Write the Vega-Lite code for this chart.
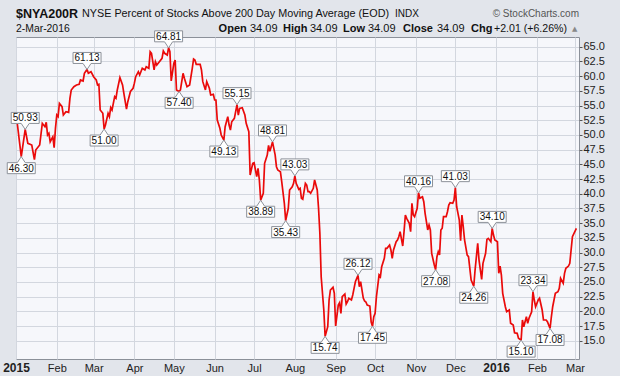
{
 "$schema": "https://vega.github.io/schema/vega-lite/v6.json",
 "width": 563,
 "height": 322,
 "autosize": {"type": "none"},
 "padding": {"left": 16, "top": 37, "right": 41, "bottom": 17},
 "background": "#e2e5eb",
 "config": {"view": {"fill": "#f6f7fb", "stroke": "#8b9099", "strokeWidth": 1}, "font": "Liberation Sans", "axis": {"labelOverlap": false}, "axisY": {"labelOverlap": false, "labelSeparation": 0}},
 "datasets": {
  "series": [
   {"date":"2015-01-02","value":51.9},{"date":"2015-01-05","value":46.30},{"date":"2015-01-08","value":50.93},{"date":"2015-01-10","value":48.57},{"date":"2015-01-13","value":48.28},{"date":"2015-01-15","value":45.8},{"date":"2015-01-16","value":47.43},{"date":"2015-01-19","value":48.28},{"date":"2015-01-21","value":51.97},{"date":"2015-01-23","value":51.39},{"date":"2015-01-24","value":52.14},{"date":"2015-01-25","value":49.98},{"date":"2015-01-26","value":50.27},{"date":"2015-01-27","value":48.84},{"date":"2015-01-29","value":49.69},{"date":"2015-01-30","value":47.82},{"date":"2015-01-31","value":51.12},
   {"date":"2015-02-01","value":53.38},{"date":"2015-02-02","value":53.10},{"date":"2015-02-03","value":55.37},{"date":"2015-02-05","value":54.80},{"date":"2015-02-06","value":53.38},{"date":"2015-02-08","value":53.95},{"date":"2015-02-10","value":53.84},{"date":"2015-02-11","value":56.22},{"date":"2015-02-12","value":57.64},{"date":"2015-02-14","value":58.20},{"date":"2015-02-16","value":58.49},{"date":"2015-02-18","value":58.61},{"date":"2015-02-19","value":59.34},{"date":"2015-02-21","value":59.17},{"date":"2015-02-22","value":60.48},{"date":"2015-02-24","value":61.13},{"date":"2015-02-25","value":60.48},{"date":"2015-02-27","value":60.75},
   {"date":"2015-03-01","value":59.90},{"date":"2015-03-03","value":59.34},{"date":"2015-03-04","value":58.49},{"date":"2015-03-05","value":58.61},{"date":"2015-03-06","value":54.23},{"date":"2015-03-08","value":53.67},{"date":"2015-03-09","value":51.00},{"date":"2015-03-10","value":51.68},{"date":"2015-03-12","value":53.67},{"date":"2015-03-13","value":53.10},{"date":"2015-03-14","value":54.63},{"date":"2015-03-15","value":54.23},{"date":"2015-03-17","value":56.50},{"date":"2015-03-18","value":56.22},{"date":"2015-03-19","value":57.64},{"date":"2015-03-21","value":59.73},{"date":"2015-03-23","value":58.49},{"date":"2015-03-24","value":57.07},{"date":"2015-03-26","value":54.40},{"date":"2015-03-27","value":55.65},{"date":"2015-03-29","value":57.38},{"date":"2015-03-31","value":57.93},
   {"date":"2015-04-01","value":58.8},{"date":"2015-04-02","value":59.90},{"date":"2015-04-04","value":60.75},{"date":"2015-04-05","value":60.19},{"date":"2015-04-07","value":61.33},{"date":"2015-04-09","value":61.04},{"date":"2015-04-10","value":61.60},{"date":"2015-04-12","value":61.33},{"date":"2015-04-13","value":64.15},{"date":"2015-04-14","value":63.88},{"date":"2015-04-16","value":61.04},{"date":"2015-04-17","value":62.45},{"date":"2015-04-18","value":61.89},{"date":"2015-04-20","value":62.45},{"date":"2015-04-22","value":63.03},{"date":"2015-04-23","value":64.27},{"date":"2015-04-24","value":63.88},{"date":"2015-04-26","value":63.59},{"date":"2015-04-27","value":64.81},{"date":"2015-04-28","value":64.15},{"date":"2015-04-29","value":59.17},
   {"date":"2015-05-01","value":62.18},{"date":"2015-05-02","value":62.74},{"date":"2015-05-03","value":57.64},{"date":"2015-05-05","value":57.40},{"date":"2015-05-06","value":57.64},{"date":"2015-05-08","value":60.48},{"date":"2015-05-09","value":59.63},{"date":"2015-05-11","value":58.20},{"date":"2015-05-13","value":58.49},{"date":"2015-05-15","value":61.33},{"date":"2015-05-16","value":62.91},{"date":"2015-05-17","value":62.74},{"date":"2015-05-18","value":62.01},{"date":"2015-05-21","value":62.01},{"date":"2015-05-22","value":61.04},{"date":"2015-05-23","value":59.05},{"date":"2015-05-25","value":57.64},{"date":"2015-05-26","value":59.05},{"date":"2015-05-28","value":57.93},{"date":"2015-05-29","value":56.79},{"date":"2015-05-31","value":56.90},
   {"date":"2015-06-01","value":55.94},{"date":"2015-06-02","value":55.94},{"date":"2015-06-03","value":52.53},{"date":"2015-06-05","value":51.12},{"date":"2015-06-06","value":49.98},{"date":"2015-06-08","value":49.13},{"date":"2015-06-09","value":51.39},{"date":"2015-06-11","value":53.10},{"date":"2015-06-12","value":51.68},{"date":"2015-06-13","value":50.83},{"date":"2015-06-14","value":52.24},{"date":"2015-06-16","value":52.82},{"date":"2015-06-18","value":55.15},{"date":"2015-06-19","value":53.38},{"date":"2015-06-20","value":54.52},{"date":"2015-06-22","value":54.63},{"date":"2015-06-24","value":53.38},{"date":"2015-06-25","value":51.97},{"date":"2015-06-27","value":50.54},{"date":"2015-06-28","value":43.18},{"date":"2015-06-30","value":45.17},
   {"date":"2015-07-01","value":45.27},{"date":"2015-07-03","value":42.89},{"date":"2015-07-04","value":44.32},{"date":"2015-07-05","value":42.33},{"date":"2015-07-06","value":38.89},{"date":"2015-07-08","value":40.07},{"date":"2015-07-09","value":45.17},{"date":"2015-07-11","value":46.58},{"date":"2015-07-12","value":48.2},{"date":"2015-07-13","value":47.2},{"date":"2015-07-14","value":48.0},{"date":"2015-07-15","value":48.81},{"date":"2015-07-17","value":46.6},{"date":"2015-07-18","value":44.59},{"date":"2015-07-19","value":44.03},{"date":"2015-07-21","value":43.74},{"date":"2015-07-22","value":42.04},{"date":"2015-07-24","value":38.37},{"date":"2015-07-25","value":35.43},{"date":"2015-07-27","value":37.52},{"date":"2015-07-28","value":40.63},{"date":"2015-07-30","value":41.19},{"date":"2015-07-31","value":41.77},
   {"date":"2015-08-01","value":43.03},{"date":"2015-08-02","value":41.77},{"date":"2015-08-04","value":40.75},{"date":"2015-08-05","value":40.92},{"date":"2015-08-06","value":39.22},{"date":"2015-08-07","value":39.05},{"date":"2015-08-09","value":41.77},{"date":"2015-08-10","value":41.48},{"date":"2015-08-11","value":40.34},{"date":"2015-08-12","value":40.34},{"date":"2015-08-13","value":40.07},{"date":"2015-08-15","value":40.92},{"date":"2015-08-16","value":42.33},{"date":"2015-08-18","value":40.63},{"date":"2015-08-19","value":37.52},{"date":"2015-08-20","value":33.27},{"date":"2015-08-21","value":25.88},{"date":"2015-08-23","value":20.22},{"date":"2015-08-24","value":15.74},{"date":"2015-08-26","value":17.38},{"date":"2015-08-27","value":21.92},{"date":"2015-08-28","value":23.62},{"date":"2015-08-30","value":24.08},{"date":"2015-08-31","value":23.06},
   {"date":"2015-09-01","value":17.50},{"date":"2015-09-03","value":21.07},{"date":"2015-09-04","value":21.46},{"date":"2015-09-05","value":19.66},{"date":"2015-09-06","value":22.48},{"date":"2015-09-08","value":22.94},{"date":"2015-09-09","value":21.24},{"date":"2015-09-10","value":21.63},{"date":"2015-09-11","value":22.21},{"date":"2015-09-13","value":21.92},{"date":"2015-09-14","value":22.77},{"date":"2015-09-15","value":23.91},{"date":"2015-09-16","value":25.03},{"date":"2015-09-18","value":26.12},{"date":"2015-09-19","value":24.18},{"date":"2015-09-20","value":25.03},{"date":"2015-09-22","value":22.26},{"date":"2015-09-23","value":21.75},{"date":"2015-09-24","value":21.58},{"date":"2015-09-25","value":21.07},{"date":"2015-09-27","value":20.90},{"date":"2015-09-28","value":18.18},{"date":"2015-09-29","value":17.45},{"date":"2015-09-30","value":19.08},
   {"date":"2015-10-01","value":19.66},{"date":"2015-10-02","value":22.48},{"date":"2015-10-04","value":26.17},{"date":"2015-10-05","value":25.88},{"date":"2015-10-06","value":27.59},{"date":"2015-10-08","value":29.01},{"date":"2015-10-09","value":30.71},{"date":"2015-10-10","value":30.71},{"date":"2015-10-12","value":31.27},{"date":"2015-10-13","value":30.43},{"date":"2015-10-14","value":29.01},{"date":"2015-10-15","value":30.43},{"date":"2015-10-17","value":31.84},{"date":"2015-10-18","value":32.13},{"date":"2015-10-19","value":32.69},{"date":"2015-10-20","value":33.54},{"date":"2015-10-22","value":31.11},{"date":"2015-10-23","value":33.54},{"date":"2015-10-24","value":36.38},{"date":"2015-10-25","value":35.82},{"date":"2015-10-27","value":34.97},{"date":"2015-10-28","value":33.54},{"date":"2015-10-29","value":38.37},{"date":"2015-10-30","value":36.38},{"date":"2015-10-31","value":36.09},
   {"date":"2015-11-02","value":37.52},{"date":"2015-11-03","value":40.16},{"date":"2015-11-04","value":39.22},{"date":"2015-11-06","value":39.49},{"date":"2015-11-07","value":38.64},{"date":"2015-11-08","value":36.67},{"date":"2015-11-10","value":33.83},{"date":"2015-11-11","value":34.68},{"date":"2015-11-12","value":33.83},{"date":"2015-11-13","value":29.86},{"date":"2015-11-15","value":27.87},{"date":"2015-11-16","value":27.08},{"date":"2015-11-17","value":29.29},{"date":"2015-11-18","value":30.14},{"date":"2015-11-19","value":29.57},{"date":"2015-11-20","value":33.83},{"date":"2015-11-21","value":34.12},{"date":"2015-11-22","value":36.09},{"date":"2015-11-24","value":36.09},{"date":"2015-11-25","value":36.94},{"date":"2015-11-26","value":38.08},{"date":"2015-11-27","value":38.47},{"date":"2015-11-29","value":38.37},{"date":"2015-11-30","value":38.93},
   {"date":"2015-12-01","value":41.03},{"date":"2015-12-02","value":37.79},{"date":"2015-12-04","value":35.53},{"date":"2015-12-05","value":32.01},{"date":"2015-12-06","value":36.38},{"date":"2015-12-07","value":34.39},{"date":"2015-12-08","value":32.13},{"date":"2015-12-10","value":29.57},{"date":"2015-12-11","value":29.29},{"date":"2015-12-12","value":27.31},{"date":"2015-12-13","value":25.32},{"date":"2015-12-15","value":24.26},{"date":"2015-12-16","value":27.02},{"date":"2015-12-18","value":31.56},{"date":"2015-12-19","value":28.72},{"date":"2015-12-21","value":25.44},{"date":"2015-12-22","value":28.16},{"date":"2015-12-24","value":29.86},{"date":"2015-12-25","value":32.24},{"date":"2015-12-26","value":32.41},{"date":"2015-12-28","value":31.84},{"date":"2015-12-29","value":34.10},{"date":"2015-12-30","value":32.97},{"date":"2015-12-31","value":32.13},
   {"date":"2016-01-02","value":31.84},{"date":"2016-01-03","value":26.46},{"date":"2016-01-04","value":27.70},{"date":"2016-01-05","value":26.17},{"date":"2016-01-06","value":23.06},{"date":"2016-01-08","value":20.78},{"date":"2016-01-09","value":19.93},{"date":"2016-01-11","value":20.22},{"date":"2016-01-12","value":17.96},{"date":"2016-01-14","value":17.67},{"date":"2016-01-15","value":16.36},{"date":"2016-01-17","value":16.26},{"date":"2016-01-18","value":15.41},{"date":"2016-01-20","value":15.10},{"date":"2016-01-21","value":18.52},{"date":"2016-01-22","value":17.38},{"date":"2016-01-24","value":19.08},{"date":"2016-01-25","value":17.96},{"date":"2016-01-26","value":18.81},{"date":"2016-01-28","value":19.93},{"date":"2016-01-29","value":23.34},{"date":"2016-01-30","value":21.92},{"date":"2016-01-31","value":20.78},
   {"date":"2016-02-02","value":21.92},{"date":"2016-02-03","value":22.21},{"date":"2016-02-05","value":20.22},{"date":"2016-02-06","value":18.52},{"date":"2016-02-08","value":18.52},{"date":"2016-02-09","value":18.23},{"date":"2016-02-11","value":17.08},{"date":"2016-02-12","value":19.08},{"date":"2016-02-13","value":20.78},{"date":"2016-02-15","value":23.06},{"date":"2016-02-17","value":23.33},{"date":"2016-02-18","value":23.91},{"date":"2016-02-19","value":25.61},{"date":"2016-02-21","value":24.76},{"date":"2016-02-22","value":26.46},{"date":"2016-02-23","value":27.31},{"date":"2016-02-25","value":27.70},{"date":"2016-02-26","value":28.16},{"date":"2016-02-27","value":30.43},{"date":"2016-02-28","value":32.69},{"date":"2016-03-02","value":34.09}
  ],
  "marks": [
   {"date":"2015-01-05","value":46.30,"pos":"below"},
   {"date":"2015-01-08","value":50.93,"pos":"above"},
   {"date":"2015-02-24","value":61.13,"pos":"above"},
   {"date":"2015-03-09","value":51.00,"pos":"below"},
   {"date":"2015-04-27","value":64.81,"pos":"above"},
   {"date":"2015-05-05","value":57.40,"pos":"below"},
   {"date":"2015-06-08","value":49.13,"pos":"below"},
   {"date":"2015-06-18","value":55.15,"pos":"above"},
   {"date":"2015-07-06","value":38.89,"pos":"below"},
   {"date":"2015-07-15","value":48.81,"pos":"above"},
   {"date":"2015-07-25","value":35.43,"pos":"below"},
   {"date":"2015-08-01","value":43.03,"pos":"above"},
   {"date":"2015-08-24","value":15.74,"pos":"below"},
   {"date":"2015-09-18","value":26.12,"pos":"above"},
   {"date":"2015-09-29","value":17.45,"pos":"below"},
   {"date":"2015-11-03","value":40.16,"pos":"above"},
   {"date":"2015-11-16","value":27.08,"pos":"below"},
   {"date":"2015-12-01","value":41.03,"pos":"above"},
   {"date":"2015-12-15","value":24.26,"pos":"below"},
   {"date":"2015-12-29","value":34.10,"pos":"above"},
   {"date":"2016-01-20","value":15.10,"pos":"below"},
   {"date":"2016-01-29","value":23.34,"pos":"above"},
   {"date":"2016-02-11","value":17.08,"pos":"below"}
  ]
 },
 "encoding": {
  "x": {"field": "date", "type": "temporal",
   "scale": {"type": "utc", "domain": [{"year": 2015, "month": 1, "date": 1, "utc": true}, {"year": 2016, "month": 3, "date": 4, "utc": true}]},
   "axis": {"title": null, "orient": "bottom",
    "values": [{"year":2015,"month":1,"date":1,"utc":true},{"year":2015,"month":2,"date":1,"utc":true},{"year":2015,"month":3,"date":1,"utc":true},{"year":2015,"month":4,"date":1,"utc":true},{"year":2015,"month":5,"date":1,"utc":true},{"year":2015,"month":6,"date":1,"utc":true},{"year":2015,"month":7,"date":1,"utc":true},{"year":2015,"month":8,"date":1,"utc":true},{"year":2015,"month":9,"date":1,"utc":true},{"year":2015,"month":10,"date":1,"utc":true},{"year":2015,"month":11,"date":1,"utc":true},{"year":2015,"month":12,"date":1,"utc":true},{"year":2016,"month":1,"date":1,"utc":true},{"year":2016,"month":2,"date":1,"utc":true},{"year":2016,"month":3,"date":1,"utc":true}],
    "labelExpr": "utcmonth(datum.value) == 0 ? utcFormat(datum.value, '%Y') : utcFormat(datum.value, '%b')",
    "labelFlush": false, "labelOverlap": false, "ticks": false, "domain": false,
    "grid": true, "gridColor": "#d3d7df", "gridWidth": 1,
    "labelFont": "Liberation Sans", "labelColor": "#222", "labelPadding": 3,
    "labelFontSize": {"condition": {"test": "utcmonth(datum.value) == 0", "value": 12}, "value": 11},
    "labelFontWeight": {"condition": {"test": "utcmonth(datum.value) == 0", "value": "bold"}, "value": "normal"}
   }
  },
  "y": {"field": "value", "type": "quantitative",
   "scale": {"domain": [11.89, 66.65], "nice": false, "zero": false},
   "axis": {"title": null, "orient": "right",
    "values": [15,17.5,20,22.5,25,27.5,30,32.5,35,37.5,40,42.5,45,47.5,50,52.5,55,57.5,60,62.5,65],
    "format": ".1f", "grid": true, "gridColor": "#d3d7df", "domain": false,
    "labelOverlap": false, "labelBound": false,
    "ticks": true, "tickSize": 3, "tickColor": "#555", "labelPadding": 1,
    "labelFont": "Liberation Sans", "labelFontSize": 11, "labelColor": "#222"
   }
  }
 },
 "layer": [
  {
   "data": {"name": "series"},
   "mark": {"type": "line", "color": "#ea0a0a", "strokeWidth": 1.7}
  },
  {
   "data": {"name": "marks"},
   "transform": [{"filter": "datum.pos == 'above'"}],
   "mark": {"type": "point", "shape": "M-1,-1.214H1V-0.4286H0.2857L0,0L-0.2857,-0.4286H-1Z", "size": 784, "filled": true, "fill": "#ffffff", "stroke": "#8c9199", "strokeWidth": 1, "opacity": 1}
  },
  {
   "data": {"name": "marks"},
   "transform": [{"filter": "datum.pos == 'below'"}],
   "mark": {"type": "point", "shape": "M-1,1.214H1V0.4286H0.2857L0,0L-0.2857,0.4286H-1Z", "size": 784, "filled": true, "fill": "#ffffff", "stroke": "#8c9199", "strokeWidth": 1, "opacity": 1}
  },
  {
   "data": {"name": "marks"},
   "transform": [{"filter": "datum.pos == 'above'"}],
   "mark": {"type": "text", "dy": -11, "baseline": "middle", "align": "center", "font": "Liberation Sans", "fontSize": 10, "color": "#111"},
   "encoding": {"text": {"field": "value", "type": "quantitative", "format": ".2f"}}
  },
  {
   "data": {"name": "marks"},
   "transform": [{"filter": "datum.pos == 'below'"}],
   "mark": {"type": "text", "dy": 12, "baseline": "middle", "align": "center", "font": "Liberation Sans", "fontSize": 10, "color": "#111"},
   "encoding": {"text": {"field": "value", "type": "quantitative", "format": ".2f"}}
  },
  {"data": {"values": [{"t": "$NYA200R"}]}, "mark": {"type": "text", "align": "left", "baseline": "alphabetic", "font": "Liberation Sans", "fontSize": 12.5, "fontWeight": "bold", "color": "#111"}, "encoding": {"text": {"field": "t"}, "x": {"value": 0}, "y": {"value": -19.5}}},
  {"data": {"values": [{"t": "NYSE Percent of Stocks Above 200 Day Moving Average (EOD)"}]}, "mark": {"type": "text", "align": "left", "baseline": "alphabetic", "font": "Liberation Sans", "fontSize": 10.8, "color": "#111"}, "encoding": {"text": {"field": "t"}, "x": {"value": 66}, "y": {"value": -20}}},
  {"data": {"values": [{"t": "INDX"}]}, "mark": {"type": "text", "align": "left", "baseline": "alphabetic", "font": "Liberation Sans", "fontSize": 10, "color": "#111"}, "encoding": {"text": {"field": "t"}, "x": {"value": 379}, "y": {"value": -20.5}}},
  {"data": {"values": [{"t": "© StockCharts.com"}]}, "mark": {"type": "text", "align": "right", "baseline": "alphabetic", "font": "Liberation Sans", "fontSize": 10, "color": "#555"}, "encoding": {"text": {"field": "t"}, "x": {"value": 563}, "y": {"value": -20.5}}},
  {"data": {"values": [{"t": "2-Mar-2016"}]}, "mark": {"type": "text", "align": "left", "baseline": "alphabetic", "font": "Liberation Sans", "fontSize": 10.4, "color": "#111"}, "encoding": {"text": {"field": "t"}, "x": {"value": 0}, "y": {"value": -5.5}}},
  {"data": {"values": [{"t": "Open"}]}, "mark": {"type": "text", "align": "left", "baseline": "alphabetic", "font": "Liberation Sans", "fontSize": 11, "fontWeight": "bold", "color": "#111"}, "encoding": {"text": {"field": "t"}, "x": {"value": 202.6}, "y": {"value": -5.5}}},
  {"data": {"values": [{"t": "34.09"}]}, "mark": {"type": "text", "align": "left", "baseline": "alphabetic", "font": "Liberation Sans", "fontSize": 11, "color": "#111"}, "encoding": {"text": {"field": "t"}, "x": {"value": 234}, "y": {"value": -5.5}}},
  {"data": {"values": [{"t": "High"}]}, "mark": {"type": "text", "align": "left", "baseline": "alphabetic", "font": "Liberation Sans", "fontSize": 11, "fontWeight": "bold", "color": "#111"}, "encoding": {"text": {"field": "t"}, "x": {"value": 267}, "y": {"value": -5.5}}},
  {"data": {"values": [{"t": "34.09"}]}, "mark": {"type": "text", "align": "left", "baseline": "alphabetic", "font": "Liberation Sans", "fontSize": 11, "color": "#111"}, "encoding": {"text": {"field": "t"}, "x": {"value": 294}, "y": {"value": -5.5}}},
  {"data": {"values": [{"t": "Low"}]}, "mark": {"type": "text", "align": "left", "baseline": "alphabetic", "font": "Liberation Sans", "fontSize": 11, "fontWeight": "bold", "color": "#111"}, "encoding": {"text": {"field": "t"}, "x": {"value": 327}, "y": {"value": -5.5}}},
  {"data": {"values": [{"t": "34.09"}]}, "mark": {"type": "text", "align": "left", "baseline": "alphabetic", "font": "Liberation Sans", "fontSize": 11, "color": "#111"}, "encoding": {"text": {"field": "t"}, "x": {"value": 352}, "y": {"value": -5.5}}},
  {"data": {"values": [{"t": "Close"}]}, "mark": {"type": "text", "align": "left", "baseline": "alphabetic", "font": "Liberation Sans", "fontSize": 11, "fontWeight": "bold", "color": "#111"}, "encoding": {"text": {"field": "t"}, "x": {"value": 387}, "y": {"value": -5.5}}},
  {"data": {"values": [{"t": "34.09"}]}, "mark": {"type": "text", "align": "left", "baseline": "alphabetic", "font": "Liberation Sans", "fontSize": 11, "color": "#111"}, "encoding": {"text": {"field": "t"}, "x": {"value": 421}, "y": {"value": -5.5}}},
  {"data": {"values": [{"t": "Chg"}]}, "mark": {"type": "text", "align": "left", "baseline": "alphabetic", "font": "Liberation Sans", "fontSize": 11, "fontWeight": "bold", "color": "#111"}, "encoding": {"text": {"field": "t"}, "x": {"value": 455}, "y": {"value": -5.5}}},
  {"data": {"values": [{"t": "+2.01 (+6.26%)"}]}, "mark": {"type": "text", "align": "left", "baseline": "alphabetic", "font": "Liberation Sans", "fontSize": 10.6, "color": "#111"}, "encoding": {"text": {"field": "t"}, "x": {"value": 478}, "y": {"value": -5.5}}},
  {"data": {"values": [{"t": "▲"}]}, "mark": {"type": "text", "align": "left", "baseline": "alphabetic", "font": "DejaVu Sans", "fontSize": 7, "color": "#888"}, "encoding": {"text": {"field": "t"}, "x": {"value": 556}, "y": {"value": -6.5}}}
 ]
}
